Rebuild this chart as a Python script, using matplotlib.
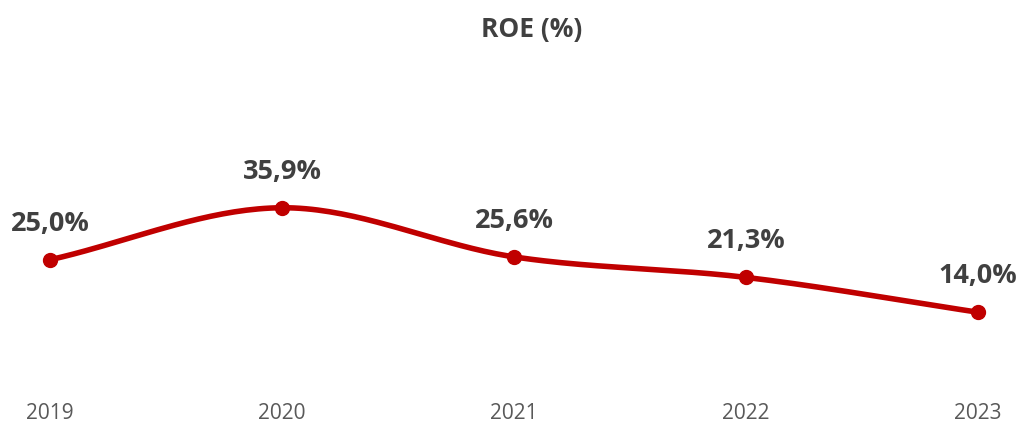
import numpy as np
import matplotlib.pyplot as plt

years = ['2019', '2020', '2021', '2022', '2023']
roe = [25.0, 35.9, 25.6, 21.3, 14.0]
labels = ['25,0%', '35,9%', '25,6%', '21,3%', '14,0%']

RED = '#C00000'
plt.rcParams['font.family'] = ['Open Sans', 'DejaVu Sans']


def smooth(xs, ys, n=40):
    # catmull-rom style smoothing like Excel's "smoothed line"
    xs = np.asarray(xs, float)
    ys = np.asarray(ys, float)
    px = np.concatenate([[2 * xs[0] - xs[1]], xs, [2 * xs[-1] - xs[-2]]])
    py = np.concatenate([[2 * ys[0] - ys[1]], ys, [2 * ys[-1] - ys[-2]]])
    out_x, out_y = [], []
    t = np.linspace(0, 1, n)
    for i in range(1, len(px) - 2):
        p0, p1, p2, p3 = (np.array([px[j], py[j]]) for j in range(i - 1, i + 3))
        b1 = p1 + (p2 - p0) / 6
        b2 = p2 - (p3 - p1) / 6
        seg = ((1 - t) ** 3)[:, None] * p1 + (3 * (1 - t) ** 2 * t)[:, None] * b1 \
            + (3 * (1 - t) * t ** 2)[:, None] * b2 + (t ** 3)[:, None] * p2
        out_x.extend(seg[:, 0])
        out_y.extend(seg[:, 1])
    return out_x, out_y


fig = plt.figure(figsize=(10.19, 4.24), dpi=100)
# axes: x=0 at px 50, x=4 at px 978 ; y=0 at px 379, 4.77 px per unit
ax = fig.add_axes([0, (424 - 379) / 424, 1, 379 / 424])
x = np.arange(len(years))
sx, sy = smooth(x, roe)
ax.plot(sx, sy, color=RED, linewidth=4, solid_capstyle='round')
ax.plot(x, roe, 'o', color=RED, markersize=10)

for xi, v, lab in zip(x, roe, labels):
    ax.annotate(lab, (xi, v), xytext=(0, 26), textcoords='offset points',
                ha='center', va='center', fontsize=19.5, fontweight='bold', color='#404040')

ax.set_xlim(-50 / 232, 4 + 41 / 232)
ax.set_ylim(0, 379 / 4.77)
ax.set_xticks(x)
ax.set_xticklabels(years, fontsize=15, color='#595959')
ax.tick_params(axis='x', length=0, pad=17)
ax.set_yticks([])
for s in ax.spines.values():
    s.set_visible(False)

fig.text(532 / 1019, 1 - 29 / 424, 'ROE (%)', ha='center', va='center',
         fontsize=19, fontweight='bold', color='#404040')

fig.savefig('out.png', dpi=100)
